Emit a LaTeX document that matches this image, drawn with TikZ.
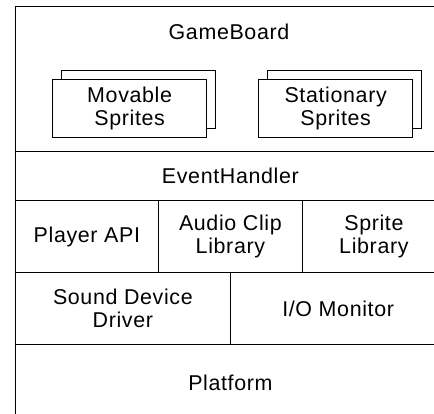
\documentclass[tikz,border=0pt]{standalone}
\usepackage{fontspec}
\setmainfont[LetterSpace=3]{Liberation Sans}
\begin{document}
\begin{tikzpicture}[x=1bp, y=-1bp,
  cell/.style={draw=black, line width=1.3bp, fill=white, anchor=north west,
    inner sep=0pt, align=center,
    font=\fontsize{21.5}{23}\selectfont},
  lbl/.style={inner sep=0pt, align=center, font=\fontsize{21.5}{23}\selectfont},
  sprite/.style={cell, minimum width=154bp, minimum height=58bp},
]
\useasboundingbox (0,0) rectangle (434,413);
\clip (0,0) rectangle (434,413);

% layered blocks, right side runs past the page edge
\node[cell, minimum width=430.5bp, minimum height=145bp] (gameboard) at (14.5,6) {};
\node[lbl] (gbtitle) at (229,32) {GameBoard};

% sprite collections: a back sheet under a front sheet
\node[sprite] (movback) at (61,70) {};
\node[sprite] (movable) at (52,79) {Movable\\Sprites};
\node[sprite] (statback) at (267,70) {};
\node[sprite] (stationary) at (258,79) {Stationary\\Sprites};

\node[cell, minimum width=430.5bp, minimum height=49bp] (event) at (14.5,151) {EventHandler};

\node[cell, minimum width=143.5bp, minimum height=72bp] (player) at (14.5,200) {Player API};
\node[cell, minimum width=143.5bp, minimum height=72bp] (audio) at (158,200) {Audio Clip\\Library};
\node[cell, minimum width=143.5bp, minimum height=72bp] (spritelib) at (301.5,200) {Sprite\\Library};

\node[cell, minimum width=215.5bp, minimum height=72bp] (sound) at (14.5,272) {Sound Device\\Driver};
\node[cell, minimum width=215bp, minimum height=72bp] (io) at (230,272) {I/O Monitor};

\node[cell, minimum width=430.5bp, minimum height=76bp] (platform) at (14.5,344) {Platform};
\end{tikzpicture}
\end{document}
